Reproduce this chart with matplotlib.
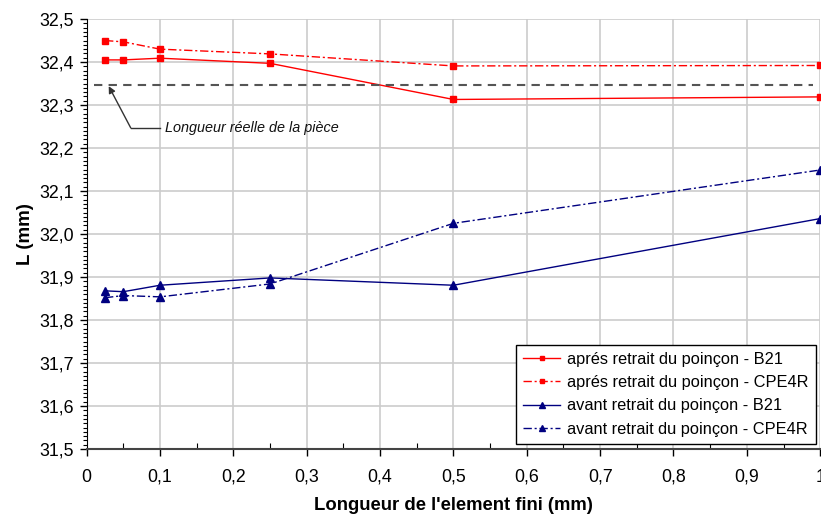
import matplotlib
matplotlib.use("Agg")
import matplotlib.pyplot as plt
from matplotlib.ticker import MultipleLocator, FuncFormatter

plt.rcParams['font.family'] = ['Liberation Sans', 'DejaVu Sans']

x = [0.025, 0.05, 0.1, 0.25, 0.5, 1.0]
apres_b21 = [32.405, 32.405, 32.409, 32.397, 32.313, 32.319]
apres_cpe4r = [32.450, 32.447, 32.430, 32.419, 32.391, 32.392]
avant_b21 = [31.868, 31.866, 31.881, 31.898, 31.881, 32.036]
avant_cpe4r = [31.852, 31.857, 31.854, 31.884, 32.025, 32.149]
longueur_reelle = 32.347

labels = ["aprés retrait du poinçon - B21",
          "aprés retrait du poinçon - CPE4R",
          "avant retrait du poinçon - B21",
          "avant retrait du poinçon - CPE4R"]

fig = plt.figure(figsize=(8.21, 5.15), dpi=100)
ax = fig.add_axes([0.1056, 0.128, 0.8934, 0.835])

red = '#FF0000'
blue = '#000080'
dd = (0, (6, 2, 1.5, 2))

ax.plot(x, apres_b21, color=red, lw=1, marker='s', ms=5, label=labels[0])
ax.plot(x, apres_cpe4r, color=red, lw=1, ls=dd, marker='s', ms=5, label=labels[1])
ax.plot(x, avant_b21, color=blue, lw=1, marker='^', ms=5.5, label=labels[2])
ax.plot(x, avant_cpe4r, color=blue, lw=1, ls=dd, marker='^', ms=5.5, label=labels[3])

ax.plot([0.01, 0.99], [longueur_reelle, longueur_reelle], color='#555555', lw=1.5, ls=(0, (4, 3)))

ax.plot([0.060, 0.0997], [32.247, 32.247], color='#333333', lw=1)
ax.annotate('', xy=(0.030, 32.344), xytext=(0.060, 32.247),
            arrowprops=dict(arrowstyle='-|>', color='#333333', lw=1, mutation_scale=10,
                            shrinkA=0, shrinkB=0))
ax.text(0.1065, 32.247, 'Longueur réelle de la pièce', style='italic', fontsize=10.4,
        va='center', ha='left', color='#111111')

ax.set_xlim(0, 1)
ax.set_ylim(31.5, 32.5)
ax.xaxis.set_major_locator(MultipleLocator(0.1))
ax.xaxis.set_minor_locator(MultipleLocator(0.05))
ax.yaxis.set_major_locator(MultipleLocator(0.1))
ax.yaxis.set_minor_locator(MultipleLocator(0.01))

def fmt_x(v, pos):
    s = f"{v:.1f}".replace('.', ',')
    if s.endswith(',0'):
        s = s[:-2]
    return s

ax.xaxis.set_major_formatter(FuncFormatter(fmt_x))
ax.yaxis.set_major_formatter(FuncFormatter(lambda v, p: f"{v:.1f}".replace('.', ',')))

ax.tick_params(axis='both', which='major', labelsize=12.8, direction='out', length=5, width=1, color='black')
ax.tick_params(axis='x', which='major', pad=9)
ax.tick_params(axis='y', which='major', pad=4)
ax.tick_params(axis='y', which='minor', direction='out', length=3, width=0.8)
ax.tick_params(axis='x', which='minor', direction='in', length=4, width=0.8)

ax.grid(True, which='major', color='#CCCCCC', lw=1.2)
ax.set_axisbelow(True)
for s in ['top', 'right']:
    ax.spines[s].set_visible(False)
ax.spines['left'].set_color('black')
ax.spines['bottom'].set_color('#444444')
ax.spines['bottom'].set_linewidth(1.5)

ax.set_xlabel("Longueur de l'element fini (mm)", fontsize=13.3, fontweight='bold', labelpad=8)
ax.set_ylabel("L (mm)", fontsize=13.5, fontweight='bold', labelpad=4)

leg = ax.legend(loc='lower right', bbox_to_anchor=(0.994, 0.012), borderaxespad=0,
                fontsize=11.8, frameon=True,
                fancybox=False, edgecolor='black', framealpha=1, handlelength=2.2,
                borderpad=0.45, labelspacing=0.5, handletextpad=0.45, markerscale=0.7)
leg.get_frame().set_linewidth(1)

fig.savefig('out.png', dpi=100)
